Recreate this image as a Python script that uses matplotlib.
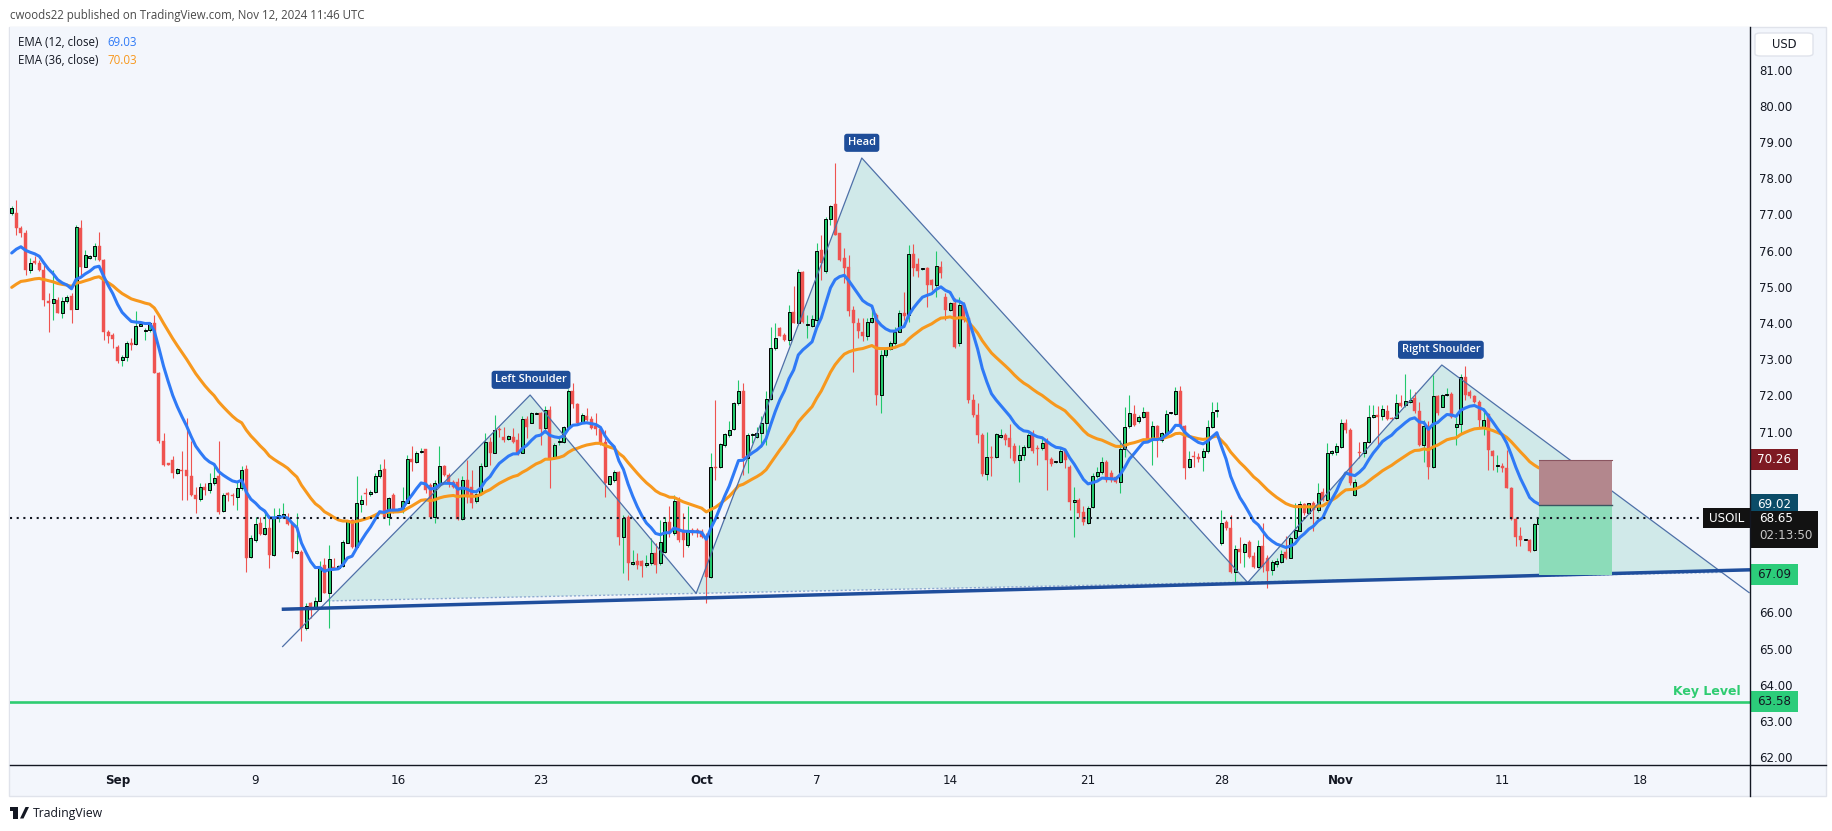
import numpy as np
import matplotlib
matplotlib.use("Agg")
import matplotlib.pyplot as plt
from matplotlib.patches import Rectangle, Polygon, FancyBboxPatch
from matplotlib.lines import Line2D
from matplotlib.transforms import blended_transform_factory

# ---------------- data (4h candles, USOIL) ----------------
opens = [
77.07, 77.08, 76.66, 76.52, 75.51, 75.74, 75.70, 75.51, 74.64, 74.59,
74.68, 74.33, 74.64, 74.79, 74.43, 76.66, 75.60, 75.83, 75.88, 76.16,
75.79, 73.80, 73.71, 73.39, 73.02, 73.10, 73.48, 73.46, 73.97, 73.82,
73.85, 74.03, 72.65, 70.77, 70.15, 70.26, 69.89, 69.98, 69.98, 69.82,
69.29, 69.17, 69.52, 69.43, 69.63, 69.80, 68.85, 69.34, 69.29, 69.23,
69.48, 70.00, 67.58, 68.05, 68.51, 68.20, 68.37, 67.63, 68.64, 68.69,
68.64, 68.51, 67.68, 67.72, 65.60, 66.30, 66.16, 66.37, 67.36, 66.57,
67.31, 67.26, 67.33, 67.97, 68.60, 67.86, 69.04, 69.34, 69.31, 69.38,
69.80, 70.00, 68.69, 69.29, 68.85, 68.88, 69.08, 70.28, 70.19, 70.47,
70.56, 69.57, 68.67, 69.61, 70.09, 69.84, 69.66, 69.66, 68.62, 69.70,
69.52, 69.11, 69.31, 70.09, 70.75, 70.46, 71.10, 70.90, 70.83, 70.90,
70.81, 70.46, 71.38, 71.29, 71.53, 71.55, 71.13, 71.64, 70.33, 70.74,
70.74, 71.16, 72.17, 71.80, 71.29, 71.48, 71.38, 71.20, 71.10, 70.76,
69.59, 69.70, 69.91, 68.12, 68.69, 67.37, 67.45, 67.45, 67.35, 67.40,
67.68, 67.40, 67.72, 68.55, 68.23, 69.11, 68.32, 67.91, 68.32, 68.32,
68.30, 68.14, 67.01, 70.07, 70.05, 70.67, 70.95, 71.10, 71.82, 72.15,
70.30, 70.95, 70.88, 70.99, 71.27, 71.93, 73.34, 73.90, 73.71, 73.57,
74.34, 74.03, 75.44, 73.99, 73.97, 74.13, 76.06, 75.49, 76.91, 77.33,
76.52, 75.83, 75.60, 74.40, 74.05, 73.78, 73.67, 74.08, 74.26, 72.05,
73.16, 73.32, 73.48, 73.80, 74.31, 74.26, 75.94, 75.67, 75.53, 75.57,
75.23, 75.09, 75.60, 74.77, 74.40, 74.60, 73.48, 74.54, 74.17, 71.91,
71.50, 70.95, 69.87, 70.35, 70.33, 70.90, 70.95, 70.85, 70.64, 70.26,
70.40, 70.61, 70.99, 70.58, 70.58, 70.79, 70.28, 70.19, 70.19, 70.49,
70.07, 69.10, 69.15, 68.83, 68.51, 68.95, 69.82, 69.91, 70.21, 69.89,
69.78, 69.66, 70.55, 71.20, 71.53, 71.32, 71.43, 71.57, 70.83, 71.20,
70.81, 70.97, 71.54, 71.52, 72.16, 71.20, 70.05, 70.35, 70.33, 70.33,
70.49, 71.18, 71.62, 67.96, 68.55, 68.37, 67.17, 67.79, 67.70, 67.99,
67.60, 67.31, 67.88, 67.56, 67.22, 67.38, 67.44, 67.70, 67.56, 68.09,
68.30, 69.04, 68.78, 69.06, 68.88, 69.36, 69.15, 70.46, 70.47, 70.60,
71.29, 71.08, 69.29, 70.48, 70.46, 70.74, 71.43, 71.50, 71.47, 71.62,
71.41, 71.41, 71.82, 71.78, 71.87, 71.98, 71.62, 70.67, 71.20, 70.07,
72.03, 71.73, 72.05, 72.08, 71.18, 71.25, 72.54, 72.14, 72.03, 71.87,
71.16, 71.52, 70.50, 70.09, 70.09, 70.03, 69.47, 68.62, 68.16, 68.05,
68.05, 67.77, 68.49]

highs = [
77.26, 77.44, 76.71, 76.61, 75.83, 75.90, 75.79, 75.65, 74.87, 75.51,
74.77, 74.77, 74.82, 74.87, 76.76, 76.89, 76.06, 75.92, 76.25, 76.55,
75.81, 73.85, 73.76, 73.44, 73.16, 73.53, 73.62, 74.36, 74.03, 73.90,
74.08, 74.26, 72.70, 71.00, 70.16, 70.37, 70.02, 70.49, 71.41, 70.77,
69.52, 69.61, 69.61, 69.89, 70.17, 70.77, 69.34, 69.38, 69.34, 69.66,
70.08, 70.12, 68.18, 68.69, 68.69, 68.78, 68.74, 68.92, 68.92, 69.06,
68.78, 68.55, 68.78, 67.77, 66.30, 66.34, 66.48, 67.45, 67.54, 67.91,
67.54, 67.36, 68.05, 68.60, 68.62, 69.80, 69.29, 69.48, 69.43, 69.89,
70.15, 70.28, 69.24, 69.34, 68.92, 69.52, 70.40, 70.63, 70.49, 70.58,
70.56, 69.61, 69.71, 70.63, 70.12, 69.89, 69.70, 69.75, 69.80, 70.26,
69.98, 69.34, 70.17, 70.99, 70.90, 71.50, 71.18, 71.18, 70.94, 71.13,
70.99, 71.46, 71.46, 71.59, 71.57, 71.59, 71.75, 71.75, 70.72, 70.86,
71.20, 72.21, 72.37, 71.82, 71.55, 71.68, 71.46, 71.55, 71.13, 71.09,
69.82, 69.98, 69.94, 68.74, 68.74, 67.77, 67.68, 67.49, 67.63, 68.09,
67.95, 68.60, 68.69, 68.97, 69.29, 69.24, 68.78, 68.97, 68.37, 68.37,
68.35, 68.23, 70.44, 71.92, 70.72, 70.99, 71.32, 71.87, 72.47, 72.37,
70.99, 70.99, 71.18, 71.46, 72.15, 73.94, 74.05, 73.94, 73.76, 74.54,
75.07, 75.54, 75.49, 74.26, 74.26, 76.25, 76.48, 76.98, 77.30, 78.46,
76.52, 76.11, 75.92, 74.50, 74.17, 74.17, 74.17, 74.40, 74.31, 73.30,
73.39, 73.53, 73.94, 74.40, 74.91, 76.20, 76.23, 75.83, 75.57, 75.60,
75.26, 76.02, 75.74, 74.86, 74.63, 74.72, 74.75, 74.63, 74.22, 72.08,
71.82, 70.99, 71.04, 70.64, 71.01, 71.10, 70.99, 71.25, 70.72, 70.67,
70.67, 70.99, 71.08, 70.67, 70.85, 70.85, 70.33, 70.22, 70.58, 70.53,
70.12, 69.52, 69.20, 68.97, 68.97, 69.89, 70.07, 70.35, 70.26, 69.98,
69.80, 70.81, 71.73, 72.05, 71.78, 71.50, 71.71, 71.59, 71.32, 71.22,
71.04, 71.64, 71.57, 72.28, 72.30, 71.22, 70.49, 70.49, 70.44, 70.58,
71.36, 71.87, 71.87, 68.87, 68.60, 68.74, 67.91, 68.14, 67.97, 68.03,
67.72, 68.05, 68.51, 67.63, 67.49, 67.54, 67.77, 68.16, 68.16, 69.08,
69.11, 69.08, 69.08, 69.11, 69.61, 69.47, 70.73, 70.53, 70.72, 71.38,
71.38, 71.13, 69.72, 70.76, 70.76, 71.78, 71.78, 71.75, 71.78, 71.78,
71.45, 72.08, 72.05, 72.63, 72.21, 72.12, 71.87, 71.36, 71.32, 72.61,
72.05, 72.08, 72.24, 72.12, 71.45, 72.63, 72.84, 72.19, 72.05, 71.91,
71.59, 71.55, 70.53, 70.40, 70.16, 70.53, 69.52, 68.69, 68.41, 68.07,
68.07, 68.51, 68.78]

lows = [
77.03, 76.48, 76.43, 75.37, 75.42, 75.68, 75.47, 74.50, 73.80, 74.13,
74.31, 74.18, 74.59, 74.04, 74.43, 75.37, 75.58, 75.81, 75.79, 75.74,
73.57, 73.48, 73.35, 72.93, 72.86, 72.98, 73.30, 73.44, 73.95, 73.56,
73.80, 72.65, 70.72, 70.08, 70.12, 69.75, 69.87, 69.15, 69.15, 69.25,
68.78, 69.11, 69.29, 69.34, 69.57, 68.76, 68.83, 69.11, 69.02, 68.88,
69.43, 67.15, 67.54, 68.00, 68.18, 68.18, 67.28, 67.59, 68.53, 68.64,
68.46, 67.54, 67.66, 65.24, 65.56, 65.88, 66.13, 66.37, 66.57, 65.60,
67.24, 67.24, 67.31, 67.95, 67.81, 67.86, 68.83, 69.02, 69.27, 69.34,
69.75, 68.64, 68.46, 68.80, 68.83, 68.78, 69.06, 69.94, 70.17, 70.44,
69.34, 68.64, 68.51, 69.57, 69.80, 69.52, 69.48, 68.60, 68.60, 69.06,
68.92, 69.08, 69.29, 70.07, 70.12, 70.44, 70.90, 70.76, 70.80, 70.72,
70.40, 70.44, 70.86, 71.27, 71.52, 70.67, 70.99, 69.47, 70.28, 70.67,
70.72, 71.13, 71.68, 71.22, 71.27, 71.32, 71.10, 70.95, 70.67, 69.24,
69.57, 69.66, 67.91, 67.12, 66.94, 67.35, 67.24, 67.03, 67.31, 67.35,
67.12, 67.35, 67.68, 68.14, 68.18, 68.00, 67.58, 67.86, 68.18, 68.14,
68.10, 66.29, 66.98, 69.70, 70.03, 70.62, 70.90, 71.09, 71.78, 69.84,
69.89, 70.72, 70.86, 70.62, 70.67, 71.92, 73.30, 73.67, 73.53, 73.43,
74.03, 73.99, 74.03, 73.62, 73.94, 73.99, 75.23, 75.42, 76.75, 76.48,
75.74, 75.14, 74.22, 72.70, 73.62, 73.53, 73.57, 74.03, 71.78, 71.55,
73.11, 73.30, 73.44, 73.78, 74.12, 74.08, 75.34, 75.32, 75.51, 74.49,
74.95, 74.77, 75.28, 74.12, 74.38, 73.34, 73.41, 74.08, 71.82, 71.45,
70.72, 69.81, 69.69, 69.81, 70.30, 70.85, 70.67, 70.30, 70.17, 69.66,
70.26, 70.58, 70.44, 70.12, 70.53, 69.43, 70.09, 70.18, 70.17, 70.03,
68.87, 68.14, 68.69, 68.46, 68.49, 68.92, 69.75, 69.87, 69.66, 69.66,
69.61, 69.34, 70.35, 71.13, 71.20, 71.27, 71.41, 70.81, 70.12, 70.35,
70.76, 70.95, 71.52, 71.50, 71.13, 69.72, 70.03, 70.07, 70.21, 69.94,
70.44, 71.13, 71.45, 67.91, 68.32, 67.12, 66.89, 67.40, 67.31, 67.54,
67.26, 67.26, 67.17, 66.71, 67.08, 67.31, 67.40, 67.51, 67.54, 68.07,
68.28, 68.74, 68.76, 68.30, 68.83, 69.13, 69.13, 70.40, 70.40, 70.58,
70.99, 69.56, 69.27, 70.30, 70.35, 70.72, 71.41, 70.64, 71.36, 71.36,
71.36, 71.38, 71.73, 71.73, 71.82, 71.56, 70.64, 70.21, 69.72, 70.03,
71.50, 71.71, 72.02, 71.41, 70.67, 70.99, 71.91, 71.96, 71.82, 71.18,
70.95, 69.98, 69.98, 69.93, 69.91, 69.47, 68.60, 67.88, 67.88, 68.03,
67.72, 67.75, 68.30]

closes = [
77.21, 76.66, 76.52, 75.51, 75.70, 75.71, 75.51, 74.68, 74.59, 74.71,
74.33, 74.66, 74.77, 74.41, 76.69, 75.60, 75.93, 75.89, 76.16, 75.77,
73.80, 73.68, 73.59, 72.98, 73.10, 73.48, 73.42, 73.96, 74.01, 73.86,
74.05, 72.65, 70.77, 70.12, 70.13, 69.89, 70.00, 69.96, 69.80, 69.29,
69.17, 69.50, 69.43, 69.63, 69.77, 68.83, 69.29, 69.29, 69.26, 69.48,
69.98, 67.56, 68.09, 68.48, 68.20, 68.37, 67.63, 68.64, 68.74, 68.76,
68.48, 67.70, 67.74, 65.60, 66.22, 66.11, 66.37, 67.31, 66.57, 67.51,
67.26, 67.33, 68.00, 68.57, 67.86, 69.06, 69.15, 69.31, 69.38, 69.80,
69.98, 68.69, 69.20, 68.88, 68.90, 69.11, 70.28, 70.19, 70.44, 70.49,
69.43, 68.67, 69.61, 70.09, 69.84, 69.61, 69.52, 68.62, 69.70, 69.24,
69.06, 69.31, 70.09, 70.75, 70.44, 71.09, 71.07, 70.81, 70.92, 70.76,
70.44, 71.38, 71.16, 71.55, 71.55, 71.10, 71.64, 70.30, 70.67, 70.76,
71.16, 72.17, 71.80, 71.29, 71.50, 71.36, 71.13, 71.10, 70.72, 69.61,
69.80, 69.91, 68.12, 68.64, 67.40, 67.43, 67.35, 67.33, 67.40, 67.68,
67.35, 68.00, 68.55, 68.23, 69.11, 68.05, 68.05, 68.28, 68.23, 68.25,
68.14, 67.03, 70.07, 70.03, 70.70, 70.97, 71.07, 71.82, 72.17, 70.30,
70.95, 70.97, 70.99, 71.27, 71.93, 73.34, 73.62, 73.68, 73.57, 74.34,
74.05, 75.44, 74.08, 74.00, 74.15, 76.03, 75.70, 76.91, 77.26, 76.48,
75.79, 75.56, 74.36, 74.03, 73.83, 73.67, 74.08, 74.17, 72.05, 73.16,
73.32, 73.48, 73.80, 74.31, 74.22, 75.94, 75.55, 75.49, 75.55, 75.09,
75.09, 75.62, 75.43, 74.40, 74.60, 73.39, 74.54, 74.13, 71.91, 71.50,
70.95, 69.87, 70.35, 70.30, 70.97, 70.95, 70.81, 70.62, 70.24, 70.40,
70.61, 70.95, 70.49, 70.56, 70.72, 70.26, 70.14, 70.21, 70.49, 70.26,
69.10, 69.15, 68.78, 68.55, 68.92, 69.82, 69.91, 70.21, 69.70, 69.70,
69.66, 70.55, 71.16, 71.55, 71.22, 71.45, 71.57, 70.83, 71.20, 70.81,
70.99, 71.52, 71.55, 72.16, 71.18, 70.03, 70.28, 70.33, 70.28, 70.49,
71.18, 71.59, 71.62, 68.52, 68.37, 67.17, 67.79, 67.70, 67.93, 67.58,
67.31, 67.88, 67.31, 67.20, 67.44, 67.47, 67.65, 67.56, 68.09, 68.32,
69.04, 68.78, 69.06, 68.88, 69.34, 69.15, 70.44, 70.47, 70.63, 71.27,
71.08, 69.61, 69.66, 70.44, 70.74, 71.43, 71.50, 71.45, 71.66, 71.38,
71.39, 71.82, 71.75, 71.89, 71.91, 71.62, 70.67, 71.20, 70.07, 72.03,
71.55, 72.05, 72.08, 71.43, 71.25, 72.54, 72.05, 72.01, 71.87, 71.36,
71.36, 70.53, 70.37, 70.10, 70.03, 69.47, 68.62, 68.14, 68.05, 68.06,
67.75, 68.49, 68.65]

# EMA values just before the first visible bar
ema12_seed = 75.75
ema36_seed = 74.90
# EMA values shown in the legend
ema_legend_values = [69.03, 70.03]

# date labels: bar index of the first bar of that day
date_ticks = [23, 53, 84, 115, 150, 175, 204, 234, 263, 289, 324, 354]
date_labels = ["Sep", "9", "16", "23", "Oct", "7", "14", "21", "28", "Nov", "11", "18"]
month_labels = {"Sep", "Oct", "Nov"}

# head & shoulders drawing (bar index, price)
hs_x = [58.9, 112.7, 148.8, 184.8, 268.7, 310.9, 377.7]
hs_y = [65.10, 72.05, 66.57, 78.60, 66.87, 72.88, 66.59]
hs_base_x = [68.8, 371.7]
hs_base_y = [66.36, 67.15]
neck_x = [58.7, 377.9]
neck_y = [66.13, 67.22]

key_level = 63.58
last_price = 68.65
entry_price, stop_price, target_price = 69.02, 70.26, 67.09
pos_start, pos_end = 332, 347.8

price_ticks = list(range(62, 82))

# ---------------- figure ----------------
W, H = 1833, 831
fig = plt.figure(figsize=(W / 100, H / 100), dpi=100)
fig.patch.set_facecolor("white")
BG = "#f3f6fc"
TXT = "#131722"

def fx(px):
    return px / W

def fy(py):
    return 1 - py / H

fig.add_artist(Rectangle((fx(9), fy(796)), fx(1826 - 9), (796 - 27) / H,
                         transform=fig.transFigure, fc=BG, ec="#e0e3eb", lw=1, zorder=0))

AX_L, AX_R, AX_T, AX_B = 9.5, 1750, 27, 764.5
ax = fig.add_axes([fx(AX_L), fy(AX_B), fx(AX_R - AX_L), (AX_B - AX_T) / H])
ax.set_facecolor(BG)
ax.set_xlim(-0.48, 377.9)
ax.set_ylim(61.84, 82.22)
for s in ax.spines.values():
    s.set_visible(False)
ax.set_yticks([])
ax.set_xticks(date_ticks)
ax.set_xticklabels(date_labels)
ax.tick_params(axis="x", length=0, pad=7, labelsize=8.6, labelcolor=TXT)
for lab in ax.get_xticklabels():
    if lab.get_text() in month_labels:
        lab.set_fontweight("bold")

o = np.array(opens); h = np.array(highs); l = np.array(lows); c = np.array(closes)
x = np.arange(len(c))

# head & shoulders fill + outline
poly_pts = [(hs_base_x[0], hs_base_y[0])] + list(zip(hs_x[1:6], hs_y[1:6])) + [(hs_base_x[1], hs_base_y[1])]
ax.add_patch(Polygon(poly_pts, closed=True, fc="#d0e9e9", ec="none", zorder=1))
ax.plot(hs_base_x, hs_base_y, color="#8eaad0", lw=1.0, ls=(0, (1.5, 1.5)), zorder=2)

# candles
up = c >= o
GREEN, RED = "#22c86c", "#ef5350"
ax.vlines(x[up], l[up], h[up], color=GREEN, lw=0.8, zorder=3)
ax.vlines(x[~up], l[~up], h[~up], color=RED, lw=0.8, zorder=3)
body_lo = np.minimum(o, c)
body_h = np.maximum(np.abs(c - o), 0.03)
ax.bar(x[up], body_h[up], bottom=body_lo[up], width=0.68, color=GREEN,
       edgecolor="black", linewidth=0.7, zorder=4)
ax.bar(x[~up], body_h[~up], bottom=body_lo[~up], width=0.68, color=RED,
       edgecolor=RED, linewidth=0.3, zorder=4)

# EMAs
def ema(vals, span, seed):
    a = 2.0 / (span + 1)
    out, e = [], seed
    for v in vals:
        e = a * v + (1 - a) * e
        out.append(e)
    return np.array(out)

e12 = ema(c, 12, ema12_seed)
e36 = ema(c, 36, ema36_seed)
ax.plot(x, e36, color="#f7981d", lw=2.2, zorder=5, solid_capstyle="round")
ax.plot(x, e12, color="#2f7af6", lw=2.2, zorder=5, solid_capstyle="round")

# pattern outline and neckline
ax.plot(hs_x, hs_y, color="#4e70a8", lw=0.9, zorder=6)
ax.plot(neck_x, neck_y, color="#1f4e9c", lw=2.5, zorder=6, solid_capstyle="butt")

# position tool
ax.add_patch(Rectangle((pos_start, entry_price), pos_end - pos_start, stop_price - entry_price,
                       fc="#b3878d", ec="none", zorder=6.5))
ax.add_patch(Rectangle((pos_start, target_price), pos_end - pos_start, entry_price - target_price,
                       fc="#8cdcb9", ec="none", zorder=6.5))
ax.plot([pos_start, pos_end], [stop_price, stop_price], color="#8a5560", lw=0.8, zorder=6.6)
ax.plot([pos_start, pos_end], [entry_price, entry_price], color="#3b5560", lw=1.0, zorder=6.6)

# current price line and key level
ax.axhline(last_price, color=TXT, lw=1.5, ls=(0, (1, 2.2)), zorder=7)
ax.axhline(key_level, color="#2ecc71", lw=1.9, zorder=7)
ax.text(0.9945, key_level + 0.1, "Key Level", transform=blended_transform_factory(ax.transAxes, ax.transData),
        ha="right", va="bottom", color="#2ecc71", fontsize=9, fontweight="bold", family="DejaVu Sans", zorder=8)

# pattern labels
lab_kw = dict(ha="center", va="center", color="white", fontsize=8, family="Open Sans", fontweight="semibold",
              zorder=9, bbox=dict(boxstyle="round,pad=0.32,rounding_size=0.25", fc="#1e4d99", ec="none"))
ax.text(112.9, 72.47, "Left Shoulder", **lab_kw)
ax.text(184.8, 79.02, "Head", **lab_kw)
ax.text(310.7, 73.30, "Right Shoulder", **lab_kw)

# ---------------- price scale ----------------
axr = fig.add_axes([fx(AX_R), fy(AX_B), fx(1826 - AX_R), (AX_B - AX_T) / H])
axr.set_xlim(0, 1826 - AX_R)
axr.set_ylim(ax.get_ylim())
axr.axis("off")

tag_prices = [stop_price, entry_price, target_price, key_level]
last_box_lo, last_box_hi = last_price - 0.825, last_price + 0.205
for p in price_ticks:
    # a scale label that sits under a price tag is hidden by it
    covered = any(abs(p - tp) < 0.4 for tp in tag_prices) or (last_box_lo - 0.1 < p < last_box_hi + 0.1)
    if covered:
        continue
    axr.text(9, p, f"{p:.2f}", ha="left", va="center", fontsize=8.5, color=TXT, family="DejaVu Sans")

tag_h = 21 / 36.18
def tag(price, fc, tc, width=48):
    axr.add_patch(Rectangle((0, price - tag_h / 2), width, tag_h, fc=fc, ec="none", zorder=5, clip_on=False))
    axr.text(width / 2, price, f"{price:.2f}", ha="center", va="center", fontsize=8.6,
             color=tc, family="DejaVu Sans", zorder=6, clip_on=False)

tag(stop_price, "#7e1a23", "white")
tag(entry_price, "#0b4c68", "white")
tag(target_price, "#2ccc7a", TXT)
tag(key_level, "#2ccc7a", TXT)
# last price box
axr.add_patch(Rectangle((0, last_box_lo), 68, last_box_hi - last_box_lo, fc="#121212", ec="none", zorder=5, clip_on=False))
axr.text(9, last_price, f"{last_price:.2f}", ha="left", va="center", fontsize=8.6, color="white",
         family="DejaVu Sans", zorder=6)
axr.text(9, last_price - 0.47, "02:13:50", ha="left", va="center", fontsize=8.6, color="#c8c8c8",
         family="DejaVu Sans", zorder=6)
axr.add_patch(Rectangle((-47, last_price - 0.28), 47, 0.56, fc="#121212", ec="none", zorder=5, clip_on=False))
axr.text(-23.5, last_price, "USOIL", ha="center", va="center", fontsize=8.6, color="white",
         family="DejaVu Sans", zorder=6, clip_on=False)

# axis lines
fig.add_artist(Line2D([fx(AX_L), fx(1826)], [fy(AX_B), fy(AX_B)], color=TXT, lw=1.0, zorder=10))
fig.add_artist(Line2D([fx(AX_R), fx(AX_R)], [fy(27), fy(796)], color=TXT, lw=1.0, zorder=10))

# USD box
fig.add_artist(FancyBboxPatch((fx(1755), fy(56)), fx(58), 23 / H, boxstyle="round,pad=0,rounding_size=0.003",
                              transform=fig.transFigure, fc="white", ec="#e0e3eb", lw=1, zorder=11))
fig.text(fx(1784), fy(44.5), "USD", ha="center", va="center", fontsize=8.3, color=TXT, zorder=12)

# header and legend
fig.text(fx(10), fy(15), "cwoods22 published on TradingView.com, Nov 12, 2024 11:46 UTC",
         ha="left", va="center", fontsize=8.3, color="#4a4a4a", family="Open Sans")
fig.text(fx(18), fy(42.5), "EMA (12, close)", ha="left", va="center", fontsize=8.3, color=TXT, family="Open Sans")
fig.text(fx(107), fy(42.5), f"{ema_legend_values[0]:.2f}", ha="left", va="center", fontsize=8.3,
         color="#2f7af6", family="Open Sans")
fig.text(fx(18), fy(60), "EMA (36, close)", ha="left", va="center", fontsize=8.3, color=TXT, family="Open Sans")
fig.text(fx(107), fy(60), f"{ema_legend_values[1]:.2f}", ha="left", va="center", fontsize=8.3,
         color="#f7981d", family="Open Sans")

# TradingView footer logo
fig.add_artist(Rectangle((fx(10), fy(811)), fx(7.5), 4 / H, transform=fig.transFigure, fc=TXT, ec="none"))
fig.add_artist(Rectangle((fx(13.5), fy(818.5)), fx(4), 11 / H, transform=fig.transFigure, fc=TXT, ec="none"))
fig.add_artist(Polygon([(fx(20), fy(818.5)), (fx(23.5), fy(818.5)), (fx(29), fy(807)), (fx(25.5), fy(807))],
                       closed=True, transform=fig.transFigure, fc=TXT, ec="none"))
fig.text(fx(33), fy(813), "TradingView", ha="left", va="center", fontsize=8.8, color=TXT, family="Open Sans")

fig.savefig("out.png", dpi=100, facecolor=fig.get_facecolor())
